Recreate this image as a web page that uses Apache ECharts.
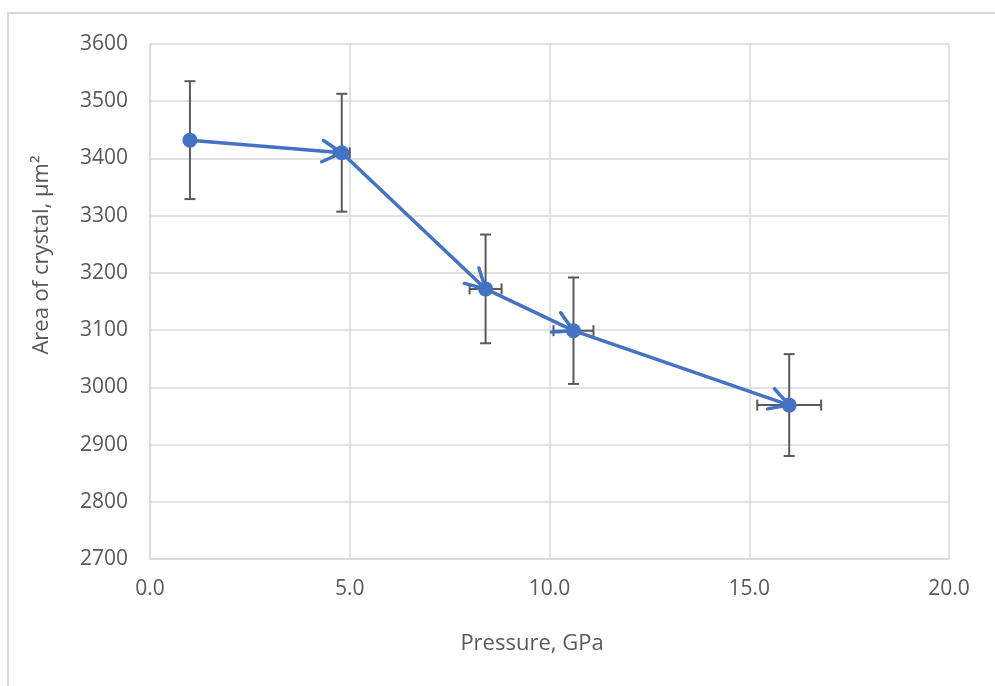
<!DOCTYPE html>
<html>
<head>
<meta charset="utf-8">
<script src="https://cdn.jsdelivr.net/npm/echarts@6/dist/echarts.min.js"></script>
<style>
html,body{margin:0;padding:0;background:#fff;}
#chart{width:995px;height:686px;}
</style>
</head>
<body>
<div id="chart"></div>
<script>
// ---- data ----
const pressure = [1.0, 4.8, 8.4, 10.6, 16.0];
const area = [3432, 3410, 3172, 3099, 2969];
const areaErr = [103, 103, 95, 93, 89];
const pressureErr = [0, 0.2, 0.4, 0.5, 0.8];
const xTicks = [0, 5, 10, 15, 20];
const yTicks = [2700, 2800, 2900, 3000, 3100, 3200, 3300, 3400, 3500, 3600];
const xTitle = 'Pressure, GPa';
const yTitle = 'Area of crystal, µm²';

const BLUE = '#4472C4';
const GREY = '#595959';
const GRIDC = '#d9d9d9';
const FONT = '"Open Sans", sans-serif';

const points = pressure.map((p, i) => [p, area[i]]);
const errData = pressure.map((p, i) => [p, area[i], pressureErr[i], areaErr[i]]);
const segData = [];
for (let i = 1; i < pressure.length; i++) {
  segData.push([pressure[i - 1], area[i - 1], pressure[i], area[i]]);
}

const chart = echarts.init(document.getElementById('chart'), null, {renderer: 'canvas'});

const option = {
  backgroundColor: '#fff',
  animation: false,
  grid: {left: 150, right: 46, top: 44, bottom: 127, containLabel: false},
  xAxis: {
    type: 'value',
    min: xTicks[0], max: xTicks[xTicks.length - 1], interval: 5,
    axisLine: {show: true, lineStyle: {color: GRIDC, width: 1.5}},
    axisTick: {show: false},
    splitLine: {show: true, lineStyle: {color: GRIDC, width: 1.5}},
    axisLabel: {
      color: GREY, fontFamily: FONT, fontSize: 21, margin: 20,
      formatter: v => v.toFixed(1)
    }
  },
  yAxis: {
    type: 'value',
    min: yTicks[0], max: yTicks[yTicks.length - 1], interval: 100,
    axisLine: {show: true, lineStyle: {color: GRIDC, width: 1.5}},
    axisTick: {show: false},
    splitLine: {show: true, lineStyle: {color: GRIDC, width: 1.5}},
    axisLabel: {color: GREY, fontFamily: FONT, fontSize: 21, margin: 22, formatter: v => String(v)}
  },
  graphic: [
    {
      type: 'rect', silent: true, z: -10,
      shape: {x: 8, y: 13, width: 1100, height: 800},
      style: {fill: 'none', stroke: GRIDC, lineWidth: 2}
    },
    {
      type: 'text', x: 532, y: 644,
      style: {text: xTitle, font: '22px ' + FONT, fill: GREY, textAlign: 'center', textVerticalAlign: 'middle'}
    },
    {
      type: 'text', x: 42, y: 255, rotation: Math.PI / 2,
      style: {text: yTitle, font: '22px ' + FONT, fill: GREY, textAlign: 'center', textVerticalAlign: 'middle'}
    }
  ],
  series: [
    {
      type: 'custom',
      name: 'errors',
      z: 2,
      data: errData,
      renderItem: function (params, api) {
        const x = api.value(0), y = api.value(1), ex = api.value(2), ey = api.value(3);
        const cap = 5.5;
        const style = {stroke: GREY, lineWidth: 2, fill: 'none'};
        const children = [];
        const top = api.coord([x, y + ey]);
        const bot = api.coord([x, y - ey]);
        children.push({type: 'line', shape: {x1: top[0], y1: top[1], x2: bot[0], y2: bot[1]}, style: style});
        children.push({type: 'line', shape: {x1: top[0] - cap, y1: top[1], x2: top[0] + cap, y2: top[1]}, style: style});
        children.push({type: 'line', shape: {x1: bot[0] - cap, y1: bot[1], x2: bot[0] + cap, y2: bot[1]}, style: style});
        if (ex > 0) {
          const l = api.coord([x - ex, y]);
          const r = api.coord([x + ex, y]);
          children.push({type: 'line', shape: {x1: l[0], y1: l[1], x2: r[0], y2: r[1]}, style: style});
          children.push({type: 'line', shape: {x1: l[0], y1: l[1] - cap, x2: l[0], y2: l[1] + cap}, style: style});
          children.push({type: 'line', shape: {x1: r[0], y1: r[1] - cap, x2: r[0], y2: r[1] + cap}, style: style});
        }
        return {type: 'group', children: children};
      }
    },
    {
      type: 'custom',
      name: 'arrows',
      z: 3,
      data: segData,
      renderItem: function (params, api) {
        const p0 = api.coord([api.value(0), api.value(1)]);
        const p1 = api.coord([api.value(2), api.value(3)]);
        const ang = Math.atan2(p1[1] - p0[1], p1[0] - p0[0]) + Math.PI;
        const L = 22, half = 29 * Math.PI / 180;
        const a1 = [p1[0] + L * Math.cos(ang - half), p1[1] + L * Math.sin(ang - half)];
        const a2 = [p1[0] + L * Math.cos(ang + half), p1[1] + L * Math.sin(ang + half)];
        return {
          type: 'polyline',
          shape: {points: [a1, p1, a2]},
          style: {stroke: BLUE, lineWidth: 3.5, fill: 'none', lineCap: 'round', lineJoin: 'round'}
        };
      }
    },
    {
      type: 'line',
      name: 'area',
      z: 4,
      data: points,
      symbol: 'circle',
      symbolSize: 15,
      lineStyle: {color: BLUE, width: 3.5},
      itemStyle: {color: BLUE},
      emphasis: {disabled: true}
    }
  ]
};
chart.setOption(option);
</script>
</body>
</html>
